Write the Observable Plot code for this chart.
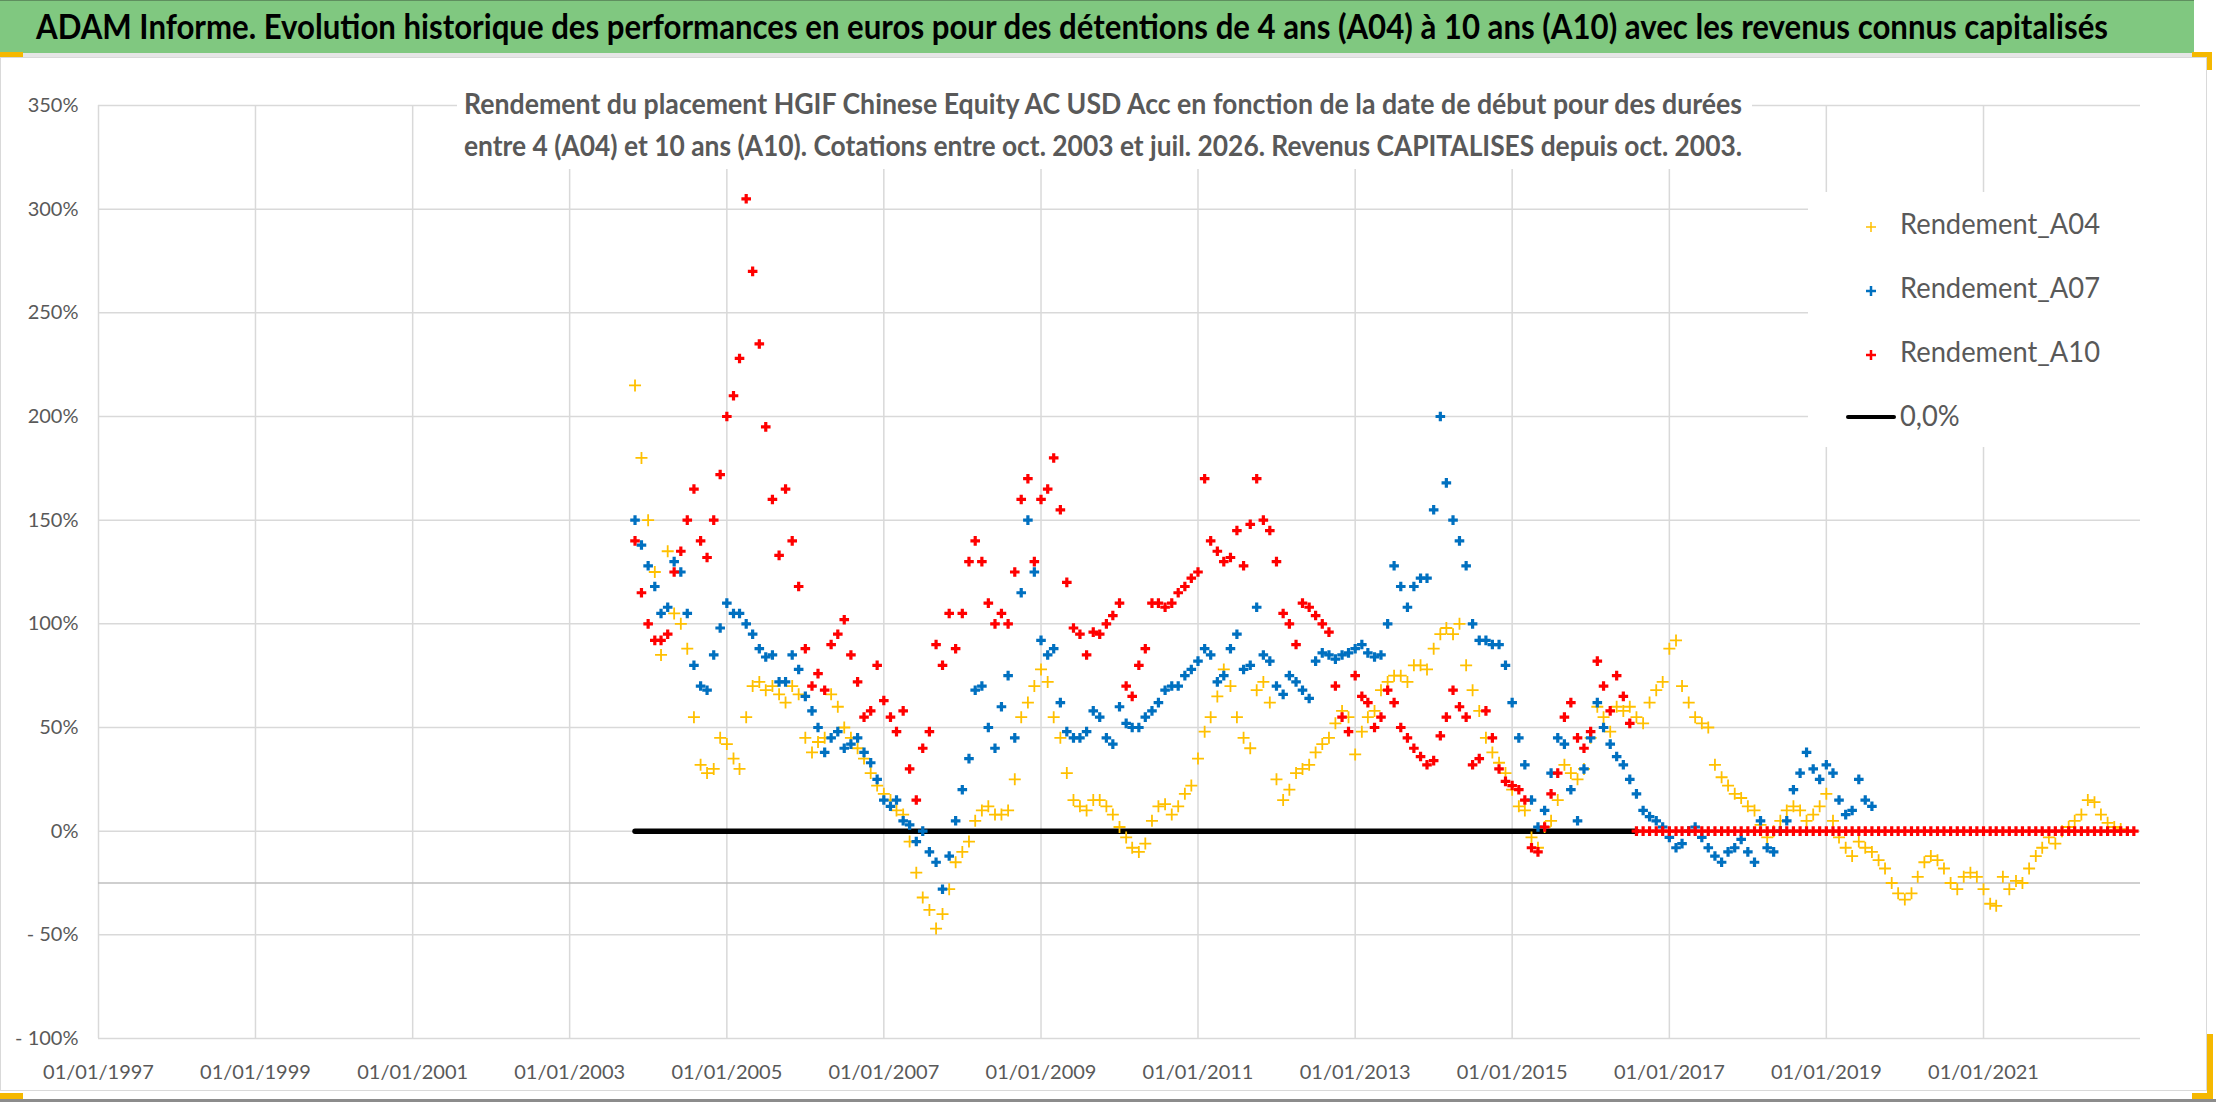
<!DOCTYPE html>
<html>
<head>
<meta charset="utf-8">
<script src="https://cdn.jsdelivr.net/npm/d3@7"></script>
<script src="https://cdn.jsdelivr.net/npm/@observablehq/plot@0.6"></script>
<style>
  html, body { margin: 0; padding: 0; background: #fff; }
  #wrap { position: relative; width: 2216px; height: 1102px; overflow: hidden; font-family: Lato, "Open Sans", sans-serif; background: #fff; }
  #chart { position: absolute; left: 0; top: 0; }
  #frame { position: absolute; left: 0; top: 57px; width: 2207px; height: 1034px; border: 1px solid #d9d9d9; box-sizing: border-box; pointer-events: none; }
  #titlebar { position: absolute; left: 0; top: 0; width: 2194px; height: 53px; background: #80c880; border-top: 1px solid #5f8f5f; box-sizing: border-box; }
  #titlesep { position: absolute; left: 0; top: 53px; width: 2194px; height: 4px; background: #e6e6e6; }
  #title { position: absolute; left: 36px; top: 0; height: 52px; line-height: 52px; white-space: nowrap; font-weight: 700; font-size: 34px; color: #000; transform-origin: 0 50%; }
  #subbox { position: absolute; left: 457px; top: 92px; width: 1295px; height: 77px; background: #fff; }
  .sub { position: absolute; left: 464px; white-space: nowrap; font-weight: 700; font-size: 29px; line-height: 42px; color: #595959; transform-origin: 0 50%; }
  #legend { position: absolute; left: 1808px; top: 192px; width: 332px; height: 255px; background: #fff; }
  .lg { position: absolute; left: 1900px; white-space: nowrap; font-size: 29px; line-height: 40px; color: #595959; transform-origin: 0 50%; }
  .mk { position: absolute; }
  .handle { position: absolute; background: #f5b800; }
  #bottomline { position: absolute; left: 0; top: 1099px; width: 2216px; height: 3px; background: #8c8c8c; }
</style>
</head>
<body>
<div id="wrap">
  <div id="chart"></div>
  <div id="frame"></div>
  <div id="titlebar"></div>
  <div id="titlesep"></div>
  <div id="title">ADAM Informe. Evolution historique des performances en euros pour des détentions de 4 ans (A04) à 10 ans (A10) avec les revenus connus capitalisés</div>
  <div id="subbox"></div>
  <div class="sub" id="sub1" style="top:82px">Rendement du placement HGIF Chinese Equity AC USD Acc en fonction de la date de début pour des durées</div>
  <div class="sub" id="sub2" style="top:124px">entre 4 (A04) et 10 ans (A10). Cotations entre oct. 2003 et juil. 2026. Revenus CAPITALISES depuis oct. 2003.</div>
  <div id="legend"></div>
  <div id="legendItems"></div>
  <div class="handle" style="left:0;top:52px;width:23px;height:5px"></div>
  <div class="handle" style="left:2192px;top:52px;width:20px;height:5px"></div>
  <div class="handle" style="left:2207px;top:52px;width:5px;height:18px"></div>
  <div class="handle" style="left:0;top:1093px;width:23px;height:6px"></div>
  <div class="handle" style="left:2207px;top:1034px;width:6px;height:65px"></div>
  <div class="handle" style="left:2192px;top:1093px;width:21px;height:6px"></div>
  <div id="bottomline"></div>
</div>
<script>
// ---------- Data (monthly readings, values in %) ----------
const seriesNames = ["Rendement_A04", "Rendement_A07", "Rendement_A10"];
const seriesColors = ["#FFC000", "#0070C0", "#FF0000"];
const zeroLabel = "0,0%";

const startA04 = "2003-11";
const valuesA04 = [
  215, 180,
  150, 125, 85, 135, 105, 100, 88, 55, 32, 28, 30, 45,
  42, 35, 30, 55, 70, 72, 68, 70, 66, 62, 70, 66,
  45, 38, 43, 45, 66, 60, 50, 45, 40, 35, 28, 22,
  18, 15, 10, 8, -5, -20, -32, -38, -47, -40, -28, -15,
  -10, -5, 5, 10, 12, 8, 8, 10, 25, 55, 62, 70,
  78, 72, 55, 45, 28, 15, 12, 10, 15, 15, 12, 8,
  2, -3, -8, -10, -6, 5, 12, 13, 8, 12, 18, 22,
  35, 48, 55, 65, 78, 70, 55, 45, 40, 68, 72, 62,
  25, 15, 20, 28, 30, 32, 38, 42, 45, 52, 58, 55,
  37, 48, 55, 58, 68, 72, 75, 75, 72, 80, 80, 78,
  88, 95, 98, 95, 100, 80, 68, 58, 45, 38, 33, 28,
  20, 12, 10, -3, -8, 2, 5, 15, 32, 28, 25, 30,
  45, 60, 55, 48, 60, 58, 60, 55, 52, 62, 68, 72,
  88, 92, 70, 62, 55, 52, 50, 32, 26, 22, 18, 16,
  12, 10, 3, -3, 0, 5, 10, 12, 10, 5, 8, 12,
  18, 5, -3, -8, -12, -5, -8, -10, -14, -18, -25, -30,
  -33, -30, -22, -15, -12, -14, -18, -25, -28, -22, -20, -22,
  -28, -35, -36, -22, -28, -24, -25, -18, -12, -8, -3, -6,
  0, 2, 5, 8, 15, 14, 8, 4, 2, 1
];

const startA07 = "2003-11";
const valuesA07 = [
  150, 138,
  128, 118, 105, 108, 130, 125, 105, 80, 70, 68, 85, 98,
  110, 105, 105, 100, 95, 88, 84, 85, 72, 72, 85, 78,
  65, 58, 50, 38, 45, 48, 40, 42, 45, 38, 33, 25,
  15, 12, 15, 5, 3, -5, 0, -10, -15, -28, -12, 5,
  20, 35, 68, 70, 50, 40, 60, 75, 45, 115, 150, 125,
  92, 85, 88, 62, 48, 45, 45, 48, 58, 55, 45, 42,
  60, 52, 50, 50, 55, 58, 62, 68, 70, 70, 75, 78,
  82, 88, 85, 72, 75, 88, 95, 78, 80, 108, 85, 82,
  70, 66, 75, 72, 68, 64, 82, 86, 85, 83, 85, 86,
  88, 90, 86, 84, 85, 100, 128, 118, 108, 118, 122, 122,
  155, 200, 168, 150, 140, 128, 100, 92, 92, 90, 90, 80,
  62, 45, 32, 15, 2, 10, 28, 45, 42, 20, 5, 30,
  45, 62, 50, 42, 36, 32, 25, 18, 10, 7, 5, 2,
  -3, -8, -6, 0, 2, -3, -8, -12, -15, -10, -8, -4,
  -10, -15, 5, -8, -10, 0, 5, 20, 28, 38, 30, 25,
  32, 28, 15, 8, 10, 25, 15, 12
];

const startA10 = "2003-11";
const valuesA10 = [
  140, 115,
  100, 92, 92, 95, 125, 135, 150, 165, 140, 132, 150, 172,
  200, 210, 228, 305, 270, 235, 195, 160, 133, 165, 140, 118,
  88, 70, 76, 68, 90, 95, 102, 85, 72, 55, 58, 80,
  63, 55, 48, 58, 30, 15, 40, 48, 90, 80, 105, 88,
  105, 130, 140, 130, 110, 100, 105, 100, 125, 160, 170, 130,
  160, 165, 180, 155, 120, 98, 95, 85, 96, 95, 100, 104,
  110, 70, 65, 80, 88, 110, 110, 108, 110, 115, 118, 122,
  125, 170, 140, 135, 130, 132, 145, 128, 148, 170, 150, 145,
  130, 105, 100, 90, 110, 108, 104, 100, 96, 70, 55, 48,
  75, 65, 62, 50, 55, 68, 62, 50, 45, 40, 36, 32,
  34, 46, 55, 68, 60, 55, 32, 35, 58, 45, 30, 24,
  22, 20, 15, -8, -10, 2, 18, 28, 55, 62, 45, 40,
  48, 82, 70, 58, 75, 65, 52, 0, 0, 0, 0, 0,
  0, 0, 0, 0, 0, 0, 0, 0, 0, 0, 0, 0,
  0, 0, 0, 0, 0, 0, 0, 0, 0, 0, 0, 0,
  0, 0, 0, 0, 0, 0, 0, 0, 0, 0, 0, 0,
  0, 0, 0, 0, 0, 0, 0, 0, 0, 0, 0, 0,
  0, 0, 0, 0, 0, 0, 0, 0, 0, 0, 0, 0,
  0, 0, 0, 0, 0, 0, 0, 0, 0, 0, 0, 0
];

const zeroLineDates = ["2003-11-01", "2016-08-01"];
const zeroLineValues = [0, 0];

const yTicks = [-100, -50, 0, 50, 100, 150, 200, 250, 300, 350];
const xTickYears = [1997, 1999, 2001, 2003, 2005, 2007, 2009, 2011, 2013, 2015, 2017, 2019, 2021];
const xDomainYears = [1997, 2023];
const refLineValue = -25;

// ---------- Build tables ----------
function monthly(start, vals) {
  const [y, m] = start.split("-").map(Number);
  return vals.map((v, i) => ({ date: new Date(Date.UTC(y, m - 1 + i, 1)), v }));
}
const dA04 = monthly(startA04, valuesA04);
const dA07 = monthly(startA07, valuesA07);
const dA10 = monthly(startA10, valuesA10);
const zeroLine = zeroLineDates.map((d, i) => ({ date: new Date(d + "T00:00:00Z"), v: zeroLineValues[i] }));
const xTicks = xTickYears.map(y => new Date(Date.UTC(y, 0, 1)));

const plusSym = {
  draw(ctx, size) {
    const r = Math.sqrt(size / Math.PI);
    ctx.moveTo(-r, 0); ctx.lineTo(r, 0);
    ctx.moveTo(0, -r); ctx.lineTo(0, r);
  }
};
const fmtPct = d => d < 0 ? "- " + Math.abs(d) + "%" : d + "%";
const fmtDate = d3.utcFormat("%d/%m/%Y");

const chart = Plot.plot({
  width: 2216,
  height: 1102,
  marginTop: 105,
  marginBottom: 64,
  marginLeft: 98,
  marginRight: 76,
  style: { fontFamily: "Lato, 'Open Sans', sans-serif", background: "transparent", color: "#595959" },
  x: { type: "utc", domain: xDomainYears.map(y => new Date(Date.UTC(y, 0, 1))) },
  y: { domain: [-100, 350] },
  marks: [
    Plot.gridY(yTicks, { stroke: "#d9d9d9", strokeOpacity: 1, strokeWidth: 1.5 }),
    Plot.gridX(xTicks, { stroke: "#d9d9d9", strokeOpacity: 1, strokeWidth: 1.5 }),
    Plot.ruleY([refLineValue], { stroke: "#bfbfbf", strokeWidth: 1.5 }),
    Plot.axisY(yTicks, { tickSize: 0, tickPadding: 20, tickFormat: fmtPct, fontSize: 20, fill: "#595959", label: null }),
    Plot.axisX(xTicks, { tickSize: 0, tickPadding: 26, tickFormat: fmtDate, fontSize: 20, fill: "#595959", label: null }),
    Plot.line(zeroLine, { x: "date", y: "v", stroke: "#000", strokeWidth: 5.5 }),
    Plot.dot(dA04, { x: "date", y: "v", symbol: plusSym, r: 6, stroke: seriesColors[0], strokeWidth: 1.8, fill: "none" }),
    Plot.dot(dA07, { x: "date", y: "v", symbol: plusSym, r: 4.8, stroke: seriesColors[1], strokeWidth: 3.2, fill: "none" }),
    Plot.dot(dA10, { x: "date", y: "v", symbol: plusSym, r: 4.8, stroke: seriesColors[2], strokeWidth: 3.2, fill: "none" })
  ]
});
document.getElementById("chart").appendChild(chart);

// ---------- Legend ----------
const legendRows = [225, 289, 353, 417];
const items = document.getElementById("legendItems");
seriesNames.forEach((name, i) => {
  const mk = document.createElement("div");
  mk.className = "mk";
  mk.style.left = "1864px";
  mk.style.top = (legendRows[i] - 7) + "px";
  mk.innerHTML = `<svg width="14" height="14"><path d="M7 2V12M2 7H12" stroke="${seriesColors[i]}" stroke-width="${i === 0 ? 1.5 : 2.5}"/></svg>`;
  items.appendChild(mk);
  const t = document.createElement("div");
  t.className = "lg";
  t.style.top = (legendRows[i] - 22) + "px";
  t.textContent = name;
  items.appendChild(t);
});
const zl = document.createElement("div");
zl.className = "mk";
zl.style.cssText = `left:1846px;top:${legendRows[3] - 2}px;width:50px;height:4px;background:#000;border-radius:2px;`;
items.appendChild(zl);
const zt = document.createElement("div");
zt.className = "lg";
zt.style.top = (legendRows[3] - 22) + "px";
zt.textContent = zeroLabel;
items.appendChild(zt);

// ---------- Fit text widths ----------
function fitAll() {
  const fit = (el, target) => {
    el.style.transform = "none";
    const w = el.getBoundingClientRect().width;
    if (w > 0) el.style.transform = `scaleX(${target / w})`;
    return w > 0 ? target / w : 1;
  };
  fit(document.getElementById("title"), 2072);
  fit(document.getElementById("sub1"), 1278);
  fit(document.getElementById("sub2"), 1278);
  const lgs = document.querySelectorAll(".lg");
  lgs[0].style.transform = "none";
  const k = 200 / lgs[0].getBoundingClientRect().width;
  lgs.forEach(el => el.style.transform = `scaleX(${k})`);
}
fitAll();
if (document.fonts && document.fonts.ready) document.fonts.ready.then(fitAll);
</script>
</body>
</html>
